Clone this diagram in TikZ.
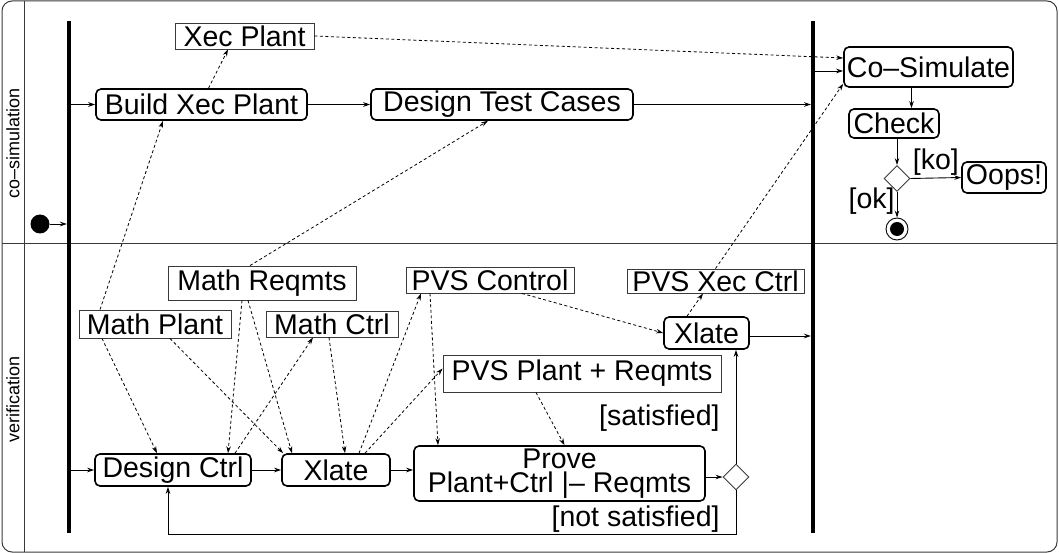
\documentclass[tikz,border=0pt]{standalone}
\usepackage{fontspec}
\setmainfont{Liberation Sans}
\usetikzlibrary{positioning,arrows.meta,shapes.geometric}
\definecolor{ink}{HTML}{000000}
\definecolor{edge}{HTML}{3a3a3a}
\tikzset{
  every node/.style={font=\fontsize{28.5}{31}\selectfont},
  action/.style={
    rectangle, rounded corners=5pt,
    draw=ink, line width=1.6pt,
    inner sep=0pt, minimum height=31pt
  },
  artifact/.style={
    rectangle, draw=edge, line width=0.9pt,
    inner sep=0pt, minimum height=26pt
  },
  branch/.style={
    diamond, draw=edge, line width=0.9pt,
    minimum size=26pt, inner sep=0pt
  },
  syncbar/.style={
    rectangle, fill=ink, inner sep=0pt,
    minimum width=3.6pt, minimum height=512pt
  },
  flow/.style={
    -{Stealth[length=7pt,width=4.5pt]},
    line width=0.9pt, draw=ink
  },
  dep/.style={
    -{Stealth[length=7pt,width=4.5pt]},
    line width=0.8pt, dash pattern=on 3pt off 2.5pt, draw=ink
  },
  guard/.style={inner sep=2pt},
  lane/.style={font=\fontsize{18}{20}\selectfont, rotate=90},
}

\begin{document}
\begin{tikzpicture}[x=1pt,y=-1pt]
  \useasboundingbox (0,0) rectangle (1059,553);
  % swimlanes
  \draw[edge, line width=1pt, rounded corners=10pt] (2,1) rectangle (1057,552);
  \draw[edge, line width=1pt] (24,1) -- (24,552);
  \draw[edge, line width=1pt] (2,244) -- (1057,244);
  \node[lane] (cosimlane) at (13,143) {co–simulation};
  \node[lane] (veriflane) at (13,399) {verification};

  % fork / join bars
  \node[syncbar] (lbar) at (69,277) {};
  \node[syncbar] (rbar) at (813,277) {};

  % co-simulation lane
  \node[circle, fill=ink, minimum size=19pt, inner sep=0pt] (init) at (40,224) {};
  \node[artifact, minimum width=139pt] (xecplant) at (244.5,36) {Xec Plant};
  \node[action, minimum width=211pt] (build) at (201.5,104.5) {Build Xec Plant};
  \node[action, minimum width=262pt] (tests) at (502,104.5) {Design Test Cases};
  \node[action, minimum width=169pt, minimum height=40pt] (cosim) at (928.5,67) {Co–Simulate};
  \node[action, minimum width=90pt, minimum height=29pt] (check) at (894,123.5) {Check};
  \node[branch] (dcheck) at (897,178.5) {};
  \node[action, minimum width=84pt] (oops) at (1004,177.5) {Oops!};
  \node[circle, draw=ink, line width=0.9pt, minimum size=22pt, inner sep=0pt] (final) at (897,229) {};
  \fill[ink] (final) circle (7pt);

  % verification lane
  \node[artifact, minimum width=188pt, minimum height=34pt] (mreq) at (262,283) {Math Reqmts};
  \node[artifact, minimum width=152pt, minimum height=28pt] (mplant) at (155,324) {Math Plant};
  \node[artifact, minimum width=132pt] (mctrl) at (332,324) {Math Ctrl};
  \node[artifact, minimum width=168pt] (pvsctrl) at (490,280) {PVS Control};
  \node[artifact, minimum width=177pt, minimum height=24pt] (pvsxec) at (715.5,281) {PVS Xec Ctrl};
  \node[artifact, minimum width=278pt, minimum height=37pt] (pvsplant) at (582,373.5) {PVS Plant + Reqmts};
  \node[action, minimum width=156pt, minimum height=32pt] (dctrl) at (173,470) {Design Ctrl};
  \node[action, minimum width=108pt, minimum height=32pt] (xlate) at (336,470) {Xlate};
  \node[action, minimum width=291pt, minimum height=55pt, align=center,
        font=\fontsize{28.5}{24}\selectfont] (prove) at (559.5,473.5) {Prove\\Plant+Ctrl |– Reqmts};
  \node[action, minimum width=85pt, minimum height=32pt] (xlatexec) at (706.5,333) {Xlate};
  \node[branch] (dsat) at (736,477) {};

  % control flow
  \draw[flow] (init) -- (init -| lbar.west);
  \draw[flow] (build.west -| lbar.east) -- (build.west);
  \draw[flow] (build) -- (tests);
  \draw[flow] (tests) -- (tests -| rbar.west);
  \draw[flow] ([yshift=-4pt]cosim.west -| rbar.east) -- ([yshift=-4pt]cosim.west);
  \draw[flow] ([xshift=-17pt]cosim.south) -- ([xshift=-17pt]cosim.south |- check.north);
  \draw[flow] (check.south -| dcheck.north) -- (dcheck.north);
  \draw[flow] (dcheck.east) -- node[guard, above] {[ko]} (oops.west);
  \draw[flow] (dcheck.south) -- node[guard, left, pos=0.35] {[ok]} (final.north);
  \draw[flow] (dctrl.west -| lbar.east) -- (dctrl.west);
  \draw[flow] (dctrl) -- (xlate);
  \draw[flow] (xlate) -- (prove.west |- xlate);
  \draw[flow] (dsat.west -| prove.east) -- (dsat.west);
  \draw[flow] (dsat.north) -- node[guard, left, pos=0.4, xshift=-14pt] {[satisfied]} (dsat.north |- xlatexec.south);
  \draw[flow] (dsat.south) -- ++(0,44) node[guard, above left, xshift=-14pt] {[not satisfied]}
    -| ([xshift=-5pt]dctrl.south);
  \draw[flow] ([yshift=-3pt]xlatexec.east) -- ([yshift=-3pt]xlatexec.east -| rbar.west);

  % object flow
  \draw[dep] ([xshift=7pt]build.north) -- ([xshift=-16.5pt]xecplant.south);
  \draw[dep] (xecplant.east) -- ([yshift=9pt]cosim.west);
  \draw[dep] ([xshift=-55pt]mplant.north) -- ([xshift=-38.5pt]build.south);
  \draw[dep] ([xshift=-12pt]mreq.north) -- ([xshift=-14pt]tests.south);
  \draw[dep] ([xshift=-53pt]mplant.south) -- ([xshift=-16pt]dctrl.north);
  \draw[dep] ([xshift=15pt]mplant.south) -- ([xshift=2pt]xlate.north west);
  \draw[dep] ([xshift=-20pt]mreq.south) -- ([xshift=55pt]dctrl.north);
  \draw[dep] ([xshift=-14pt]mreq.south) -- ([xshift=-44pt]xlate.north);
  \draw[dep] ([xshift=62pt]dctrl.north) -- ([xshift=-19pt]mctrl.south);
  \draw[dep] ([xshift=-3pt]mctrl.south) -- ([xshift=9pt]xlate.north);
  \draw[dep] ([xshift=23pt]xlate.north) -- ([xshift=-69pt]pvsctrl.south);
  \draw[dep] ([xshift=29pt]xlate.north) -- ([yshift=5pt]pvsplant.west);
  \draw[dep] ([xshift=-60pt]pvsctrl.south) -- ([xshift=-121.5pt]prove.north);
  \draw[dep] ([xshift=-46pt]pvsplant.south) -- ([xshift=5pt]prove.north);
  \draw[dep] ([xshift=32pt]pvsctrl.south) -- (xlatexec.west);
  \draw[dep] ([xshift=-19.5pt]xlatexec.north) -- ([xshift=-12.5pt]pvsxec.south);
  \draw[dep] (pvsxec.north) -- ([yshift=4pt]cosim.south west);
\end{tikzpicture}
\end{document}
